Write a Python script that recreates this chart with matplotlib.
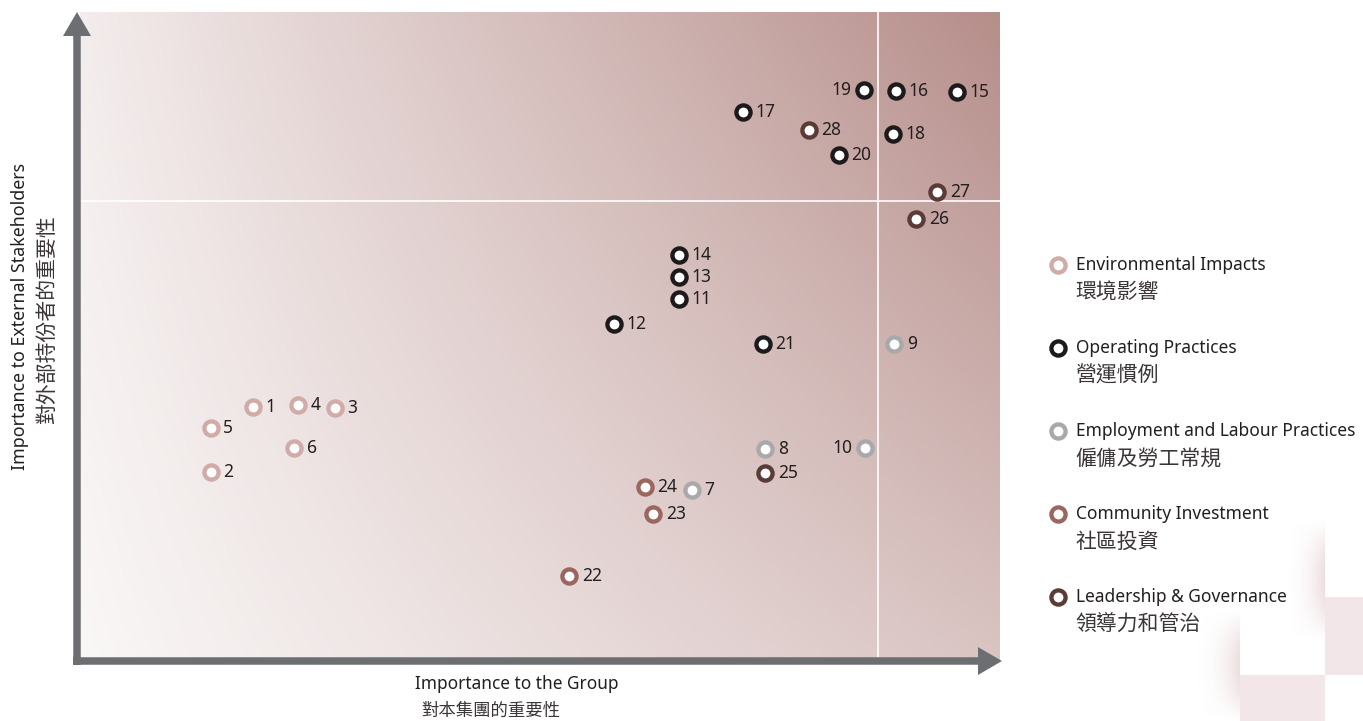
import numpy as np
import matplotlib
matplotlib.use("Agg")
import matplotlib.pyplot as plt
from matplotlib.patches import FancyArrow, Rectangle

# materiality scores (0-100 on both axes)
topic_ids = [str(i) for i in range(1, 29)]
group_importance = [18.8, 14.2, 27.7, 23.7, 14.2, 23.3, 66.5, 74.5, 88.5, 85.3,
                    65.1, 58.0, 65.1, 65.1, 95.3, 88.7, 72.1, 88.4, 85.2, 82.5,
                    74.2, 53.2, 62.3, 61.4, 74.5, 90.9, 93.2, 79.2]
stakeholder_importance = [39.0, 29.0, 38.9, 39.4, 35.8, 32.7, 26.2, 32.6, 48.8, 32.7,
                          55.7, 51.9, 59.1, 62.5, 87.7, 87.8, 84.6, 81.2, 88.0, 77.9,
                          48.8, 13.0, 22.5, 26.7, 28.9, 68.1, 72.2, 81.8]
# category index per topic
topic_category = [0, 0, 0, 0, 0, 0, 2, 2, 2, 2,
                  1, 1, 1, 1, 1, 1, 1, 1, 1, 1,
                  1, 3, 3, 3, 4, 4, 4, 4]
labels_on_left = ["10", "19"]

category_en = ["Environmental Impacts", "Operating Practices",
               "Employment and Labour Practices", "Community Investment",
               "Leadership & Governance"]
category_zh = ["環境影響", "營運慣例", "僱傭及勞工常規", "社區投資", "領導力和管治"]
category_colors = ["#d0aba7", "#1c1a1a", "#a9a9ac", "#9c6660", "#5a3b37"]

group_threshold = 86.7
stakeholder_threshold = 70.8

LATIN = ["Noto Sans", "DejaVu Sans"]
CJK = ["Noto Sans CJK TC", "DejaVu Sans"]
TXT = "#231f20"
TXT_ZH = "#3b3536"
ARROW = "#6d6e71"
MS, MEW = 10.2, 3.1

W, H = 1363, 721
fig = plt.figure(figsize=(W / 100, H / 100), dpi=100)
fig.patch.set_facecolor("white")

# overlay in pixel coordinates for the corner decoration
over = fig.add_axes([0, 0, 1, 1])
over.set_xlim(0, W)
over.set_ylim(H, 0)
over.axis("off")

pink = "#f2e6e8"
over.add_patch(Rectangle((1325, 597), 40, 78, color=pink, lw=0, zorder=1))
over.add_patch(Rectangle((1240, 675), 85, 50, color=pink, lw=0, zorder=1))


def soft_shadow(x0, x1, y0, y1, peak):
    gx = np.linspace(0, 1, 80)[None, :] ** 2.5
    gy = np.sin(np.linspace(0, np.pi, 80))[:, None]
    img = np.zeros((80, 80, 4))
    img[..., :3] = np.array([0.80, 0.62, 0.64])
    img[..., 3] = gx * gy * peak
    over.imshow(img, extent=(x0, x1, y1, y0), aspect="auto", zorder=1,
                interpolation="bilinear")


soft_shadow(1280, 1325, 520, 640, 0.35)
soft_shadow(1190, 1240, 610, 721, 0.35)

# main plot area
ax = fig.add_axes([80 / W, (H - 660) / H, 920 / W, 648 / H])
ax.set_xlim(0, 100)
ax.set_ylim(0, 100)
ax.axis("off")

u = np.linspace(0, 1, 300)[None, :]
v = np.linspace(0, 1, 200)[:, None]
t = 0.48 * u + 0.1 * v + 0.42 * u * v
light = np.array([250, 247, 247]) / 255
dark = np.array([182, 142, 138]) / 255
grad = light * (1 - t[..., None]) + dark * t[..., None]
ax.imshow(grad, extent=(0, 100, 0, 100), origin="lower", aspect="auto", zorder=0)

ax.axvline(group_threshold, color="white", lw=1.2, zorder=1)
ax.axhline(stakeholder_threshold, color="white", lw=1.2, zorder=1)

for i, tid in enumerate(topic_ids):
    c = category_colors[topic_category[i]]
    x, y = group_importance[i], stakeholder_importance[i]
    ax.plot(x, y, "o", ms=MS, mfc="white", mec=c, mew=MEW, zorder=3)
    side = -1 if tid in labels_on_left else 1
    ax.annotate(tid, (x, y), xytext=(9 * side, 0), textcoords="offset points",
                ha="right" if side < 0 else "left", va="center",
                fontsize=12.5, color=TXT, family=LATIN, zorder=4)

# axis arrows, titles and legend
top = fig.add_axes([0, 0, 1, 1])
top.set_xlim(0, W)
top.set_ylim(H, 0)
top.axis("off")
top.add_patch(FancyArrow(77, 665, 0, -653, width=7.5, head_width=28,
                         head_length=24, length_includes_head=True,
                         color=ARROW, lw=0))
top.add_patch(FancyArrow(73, 661, 929, 0, width=7.5, head_width=28,
                         head_length=24, length_includes_head=True,
                         color=ARROW, lw=0))

top.text(517, 684, "Importance to the Group", ha="center", va="center",
         fontsize=12.4, color=TXT, family=LATIN)
top.text(491, 711, "對本集團的重要性", ha="center", va="center",
         fontsize=12.5, color=TXT_ZH, family=CJK, fontweight="light")
top.text(20, 317, "Importance to External Stakeholders", ha="center",
         va="center", rotation=90, fontsize=12.8, color=TXT, family=LATIN)
top.text(47, 320, "對外部持份者的重要性", ha="center", va="center",
         rotation=90, fontsize=15, color=TXT_ZH, family=CJK, fontweight="light")

for k in range(len(category_en)):
    y0 = 265 + 83 * k
    top.plot(1058, y0, "o", ms=MS, mfc="white", mec=category_colors[k], mew=MEW)
    top.text(1076, y0, category_en[k], ha="left", va="center", fontsize=12.5,
             color=TXT, family=LATIN)
    top.text(1075, y0 + 28, category_zh[k], ha="left", va="center",
             fontsize=15, color=TXT_ZH, family=CJK, fontweight="light")

fig.savefig("out.png", dpi=100)
